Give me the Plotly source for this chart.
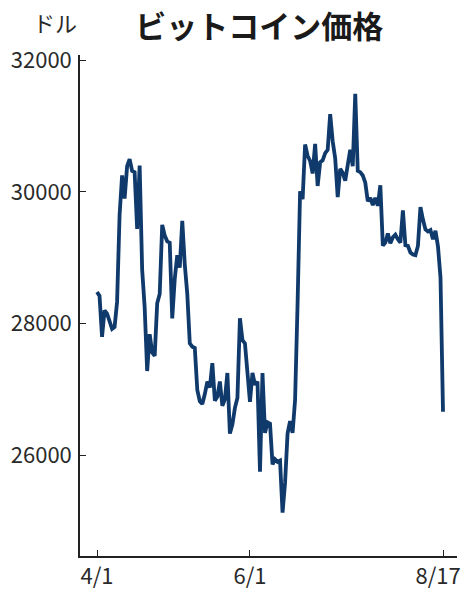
import plotly.graph_objects as go
import pandas as pd

# ---------------------------------------
# data (daily, 2023-04-01 .. 2023-08-17), USD
# ---------------------------------------

start_date = "2023-04-01"
end_date = "2023-08-17"

apr = [28480, 28420, 27800, 28200, 28150, 28030, 27920, 27950, 28330, 29650,
       30250, 29900, 30390, 30500, 30320, 30300, 29440, 30400, 28820, 28250,
       27280, 27840, 27560, 27510, 28310, 28450, 29500, 29340, 29250, 29230]
may = [28080, 28680, 29040, 28850, 29560, 28900, 28450, 27700, 27650, 27630,
       26990, 26820, 26780, 26930, 27120, 27030, 27400, 26830, 26890, 27120,
       26750, 26850, 27250, 26330, 26470, 26720, 26870, 28080, 27750, 27700,
       27220]
jun = [26810, 27250, 27070, 27120, 25750, 27250, 26340, 26500, 26480, 25860,
       25940, 25900, 25920, 25130, 25580, 26330, 26520, 26340, 26840, 28310,
       30010, 29890, 30720, 30550, 30470, 30280, 30730, 30090, 30450, 30480]
jul = [30590, 30640, 31180, 30770, 30510, 29920, 30350, 30290, 30170, 30410,
       30640, 30390, 31490, 30320, 30300, 30250, 30140, 29860, 29910, 29800,
       29910, 29790, 30100, 29185, 29230, 29370, 29220, 29310, 29350, 29280,
       29230]
aug = [29720, 29190, 29180, 29080, 29050, 29040, 29180, 29770, 29580, 29430,
       29400, 29420, 29280, 29410, 29170, 28700, 26660]

prices = apr + may + jun + jul + aug
dates = pd.date_range(start_date, end_date, freq="D")

tick_dates = ["2023-04-01", "2023-06-01", "2023-08-17"]
tick_text = ["4/1", "6/1", "8/17\u00a0\u00a0"]
y_ticks = [26000, 28000, 30000, 32000]

title_text = "ビットコイン価格"
unit_text = "ドル"

# ---------------------------------------
# figure
# ---------------------------------------

fig = go.Figure()

fig.add_trace(
    go.Scatter(
        x=dates,
        y=prices,
        mode="lines",
        line=dict(color="#0f3a6b", width=3.8),
        hoverinfo="x+y",
    )
)

num_font = dict(family="Noto Sans CJK JP, sans-serif", size=22, color="#2a2a2a")

fig.update_layout(
    width=473,
    height=600,
    margin=dict(l=80, r=16, t=55, b=44),
    paper_bgcolor="white",
    plot_bgcolor="white",
    showlegend=False,
    title=dict(
        text=title_text,
        x=0.548,
        xanchor="center",
        y=0.955,
        yanchor="middle",
        font=dict(family="Noto Sans CJK JP", size=31, color="#1a1a1a", weight="bold"),
    ),
    xaxis=dict(
        range=["2023-03-25 05:00", "2023-08-22 14:00"],
        tickvals=tick_dates,
        ticktext=tick_text,
        ticks="inside",
        ticklen=6,
        tickwidth=1.2,
        tickcolor="#222",
        showline=True,
        linecolor="#222",
        linewidth=1.5,
        showgrid=False,
        zeroline=False,
        automargin=False,
        tickfont=num_font,
    ),
    yaxis=dict(
        range=[24470, 32080],
        tickvals=y_ticks,
        tickformat="d",
        ticks="inside",
        ticklen=6,
        tickwidth=1.2,
        tickcolor="#222",
        showline=True,
        linecolor="#222",
        linewidth=1.5,
        showgrid=False,
        zeroline=False,
        automargin=False,
        tickfont=num_font,
        ticklabelstandoff=2,
    ),
    annotations=[
        dict(
            text=unit_text,
            xref="paper", yref="paper",
            x=-0.065, y=1.065,
            xanchor="center", yanchor="middle",
            showarrow=False,
            font=dict(family="Noto Sans CJK JP", size=22, color="#2a2a2a"),
        )
    ],
)

fig.write_html(
    "out.html",
    config={"displayModeBar": False},
    post_script="document.body.style.margin='0';",
)
